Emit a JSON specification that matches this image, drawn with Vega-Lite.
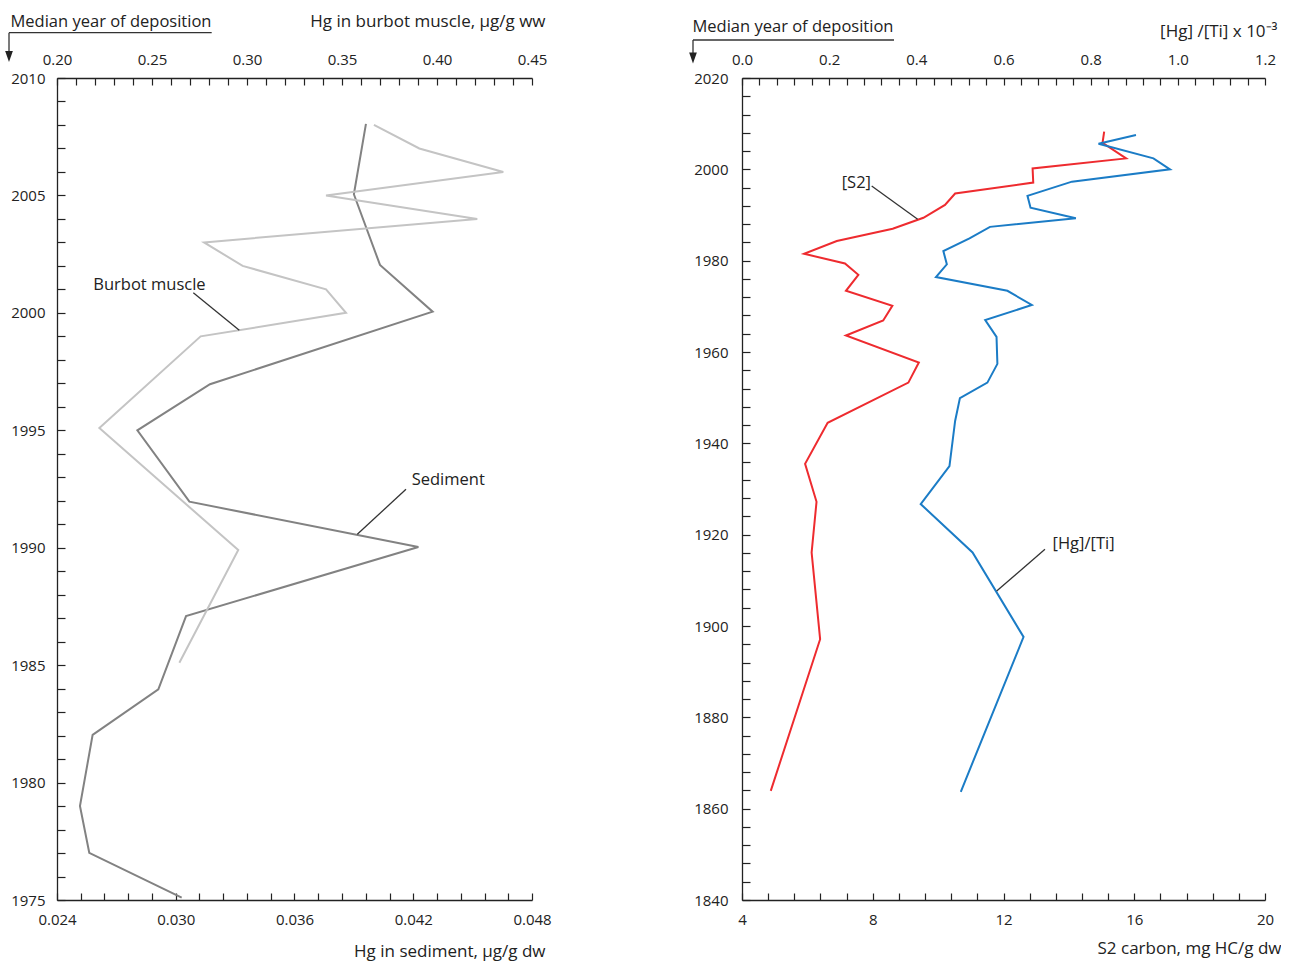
{
  "$schema": "https://vega.github.io/schema/vega-lite/v6.json",
  "padding": {"left": 5, "top": 12, "right": 0, "bottom": 10},
  "bounds": "flush",
  "spacing": 210,
  "config": {
    "view": {"stroke": null},
    "font": "Open Sans",
    "axis": {
      "grid": false,
      "domainColor": "#222222",
      "domainWidth": 1.3,
      "tickColor": "#222222",
      "tickWidth": 1.2,
      "labelColor": "#222222",
      "titleColor": "#222222",
      "labelFont": "Open Sans",
      "titleFont": "Open Sans",
      "labelFontSize": 15,
      "titleFontSize": 17,
      "titleFontWeight": "normal",
      "labelFlush": false,
      "labelOverlap": false
    }
  },
  "datasets": {
    "sediment": [
      {"year": 2008.05, "hg": 0.03961},
      {"year": 2005.05, "hg": 0.0390},
      {"year": 2002.04, "hg": 0.04032},
      {"year": 2000.05, "hg": 0.04298},
      {"year": 1996.96, "hg": 0.03173},
      {"year": 1995.0, "hg": 0.02806},
      {"year": 1991.96, "hg": 0.03069},
      {"year": 1990.03, "hg": 0.04226},
      {"year": 1987.09, "hg": 0.03052},
      {"year": 1983.97, "hg": 0.02912},
      {"year": 1982.03, "hg": 0.0258},
      {"year": 1979.0, "hg": 0.02516},
      {"year": 1977.01, "hg": 0.02563},
      {"year": 1975.1, "hg": 0.0303}
    ],
    "burbot": [
      {"year": 2008.0, "hg": 0.3668},
      {"year": 2007.0, "hg": 0.3907},
      {"year": 2006.0, "hg": 0.4349},
      {"year": 2005.0, "hg": 0.3416},
      {"year": 2004.0, "hg": 0.4212},
      {"year": 2003.0, "hg": 0.2774},
      {"year": 2002.0, "hg": 0.2977},
      {"year": 2001.0, "hg": 0.3416},
      {"year": 2000.0, "hg": 0.3521},
      {"year": 1999.0, "hg": 0.2756},
      {"year": 1995.1, "hg": 0.2223},
      {"year": 1989.9, "hg": 0.2954},
      {"year": 1985.1, "hg": 0.2644}
    ],
    "s2": [
      {"year": 2008.25, "s2": 15.08},
      {"year": 2005.8, "s2": 15.03},
      {"year": 2002.4, "s2": 15.75},
      {"year": 2000.2, "s2": 12.89},
      {"year": 1997.1, "s2": 12.91},
      {"year": 1994.7, "s2": 10.52},
      {"year": 1992.2, "s2": 10.21},
      {"year": 1989.4, "s2": 9.55},
      {"year": 1987.0, "s2": 8.61},
      {"year": 1984.3, "s2": 6.90},
      {"year": 1981.5, "s2": 5.90},
      {"year": 1979.4, "s2": 7.15},
      {"year": 1976.9, "s2": 7.56},
      {"year": 1973.4, "s2": 7.18},
      {"year": 1970.1, "s2": 8.60},
      {"year": 1966.9, "s2": 8.32},
      {"year": 1963.6, "s2": 7.18},
      {"year": 1957.7, "s2": 9.41},
      {"year": 1953.3, "s2": 9.09},
      {"year": 1944.5, "s2": 6.62},
      {"year": 1935.5, "s2": 5.93},
      {"year": 1927.2, "s2": 6.28},
      {"year": 1916.1, "s2": 6.13},
      {"year": 1897.1, "s2": 6.39},
      {"year": 1863.9, "s2": 4.88}
    ],
    "hgti": [
      {"year": 2007.5, "r": 0.904},
      {"year": 2005.6, "r": 0.818},
      {"year": 2002.4, "r": 0.944},
      {"year": 2000.0, "r": 0.982},
      {"year": 1997.3, "r": 0.757},
      {"year": 1994.2, "r": 0.655},
      {"year": 1991.6, "r": 0.662},
      {"year": 1989.3, "r": 0.766},
      {"year": 1987.4, "r": 0.569},
      {"year": 1984.9, "r": 0.522},
      {"year": 1982.1, "r": 0.462},
      {"year": 1979.2, "r": 0.470},
      {"year": 1976.4, "r": 0.445},
      {"year": 1973.4, "r": 0.609},
      {"year": 1970.3, "r": 0.665},
      {"year": 1967.0, "r": 0.558},
      {"year": 1963.3, "r": 0.584},
      {"year": 1957.4, "r": 0.586},
      {"year": 1953.3, "r": 0.563},
      {"year": 1949.9, "r": 0.500},
      {"year": 1944.9, "r": 0.489},
      {"year": 1935.0, "r": 0.476},
      {"year": 1926.7, "r": 0.410},
      {"year": 1916.1, "r": 0.529},
      {"year": 1897.6, "r": 0.646},
      {"year": 1863.7, "r": 0.502}
    ],
    "left_text": [
      {"label": "Burbot muscle", "x": 0.025834, "y": 2001.19},
      {"label": "Sediment", "x": 0.041922, "y": 1992.87}
    ],
    "left_rules": [
      {"x": 0.030887, "y": 2000.86, "x2": 0.033211, "y2": 1999.26},
      {"x": 0.041633, "y": 1992.49, "x2": 0.039173, "y2": 1990.57},
      {"x": 0.021575, "y": 2011.93, "x2": 0.031816, "y2": 2011.93},
      {"x": 0.021575, "y": 2011.93, "x2": 0.021575, "y2": 2011.06}
    ],
    "left_head": [{"x": 0.021575, "y": 2010.915}],
    "right_text": [
      {"label": "[S2]", "x": 7.05, "y": 1997.07},
      {"label": "[Hg]/[Ti]", "x": 13.50, "y": 1917.9}
    ],
    "right_rules": [
      {"x": 7.967, "y": 1996.35, "x2": 9.375, "y2": 1989.06},
      {"x": 13.269, "y": 1916.8, "x2": 11.791, "y2": 1907.67},
      {"x": 2.501, "y": 2028.32, "x2": 8.65, "y2": 2028.32},
      {"x": 2.501, "y": 2028.32, "x2": 2.501, "y2": 2025.04}
    ],
    "right_head": [{"x": 2.501, "y": 2024.38}]
  },
  "hconcat": [
    {
      "width": 475,
      "height": 822,
      "resolve": {"scale": {"x": "independent"}},
      "layer": [
        {
          "data": {"name": "sediment"},
          "mark": {"type": "line", "color": "#828282", "strokeWidth": 2},
          "encoding": {
            "x": {
              "field": "hg", "type": "quantitative",
              "scale": {"domain": [0.024, 0.048], "nice": false, "zero": false},
              "axis": {
                "orient": "bottom",
                "values": [0.024, 0.0252, 0.0264, 0.0276, 0.0288, 0.03, 0.0312, 0.0324, 0.0336, 0.0348, 0.036, 0.0372, 0.0384, 0.0396, 0.0408, 0.042, 0.0432, 0.0444, 0.0456, 0.0468, 0.048],
                "labelExpr": "round((datum.value-0.024)/0.0012) % 5 == 0 ? format(datum.value, '.3f') : ''",
                "tickSize": -7,
                "labelPadding": 31,
                "labelBaseline": "alphabetic",
                "title": "Hg in sediment, µg/g dw",
                "titleX": 488,
                "titleY": 56,
                "titleAlign": "right",
                "titleBaseline": "alphabetic"
              }
            },
            "y": {
              "field": "year", "type": "quantitative",
              "scale": {"domain": [1975, 2010], "nice": false, "zero": false},
              "axis": {"orient": "left", "values": [1975, 1976, 1977, 1978, 1979, 1980, 1981, 1982, 1983, 1984, 1985, 1986, 1987, 1988, 1989, 1990, 1991, 1992, 1993, 1994, 1995, 1996, 1997, 1998, 1999, 2000, 2001, 2002, 2003, 2004, 2005, 2006, 2007, 2008, 2009, 2010], "labelExpr": "datum.value % 5 == 0 ? format(datum.value, 'd') : ''", "tickSize": -8, "labelPadding": 20, "labelBaseline": "middle", "title": "Median year of deposition", "titleFontSize": 16.5, "titleAngle": 0, "titleX": -47, "titleY": -52, "titleAlign": "left", "titleBaseline": "alphabetic"}
            },
            "order": {"field": "year", "type": "quantitative"}
          }
        },
        {
          "data": {"name": "burbot"},
          "mark": {"type": "line", "color": "#c4c4c4", "strokeWidth": 2},
          "encoding": {
            "x": {
              "field": "hg", "type": "quantitative",
              "scale": {"domain": [0.2, 0.45], "nice": false, "zero": false},
              "axis": {
                "orient": "top",
                "values": [0.2, 0.21, 0.22, 0.23, 0.24, 0.25, 0.26, 0.27, 0.28, 0.29, 0.3, 0.31, 0.32, 0.33, 0.34, 0.35, 0.36, 0.37, 0.38, 0.39, 0.4, 0.41, 0.42, 0.43, 0.44, 0.45],
                "labelExpr": "round(datum.value*100) % 5 == 0 ? format(datum.value, '.2f') : ''",
                "tickSize": -7,
                "labelPadding": 21,
                "labelBaseline": "alphabetic",
                "title": "Hg in burbot muscle, µg/g ww",
                "titleX": 488,
                "titleY": -52,
                "titleAlign": "right",
                "titleBaseline": "alphabetic"
              }
            },
            "y": {
              "field": "year", "type": "quantitative",
              "scale": {"domain": [1975, 2010], "nice": false, "zero": false},
              "axis": {"orient": "left", "values": [1975, 1976, 1977, 1978, 1979, 1980, 1981, 1982, 1983, 1984, 1985, 1986, 1987, 1988, 1989, 1990, 1991, 1992, 1993, 1994, 1995, 1996, 1997, 1998, 1999, 2000, 2001, 2002, 2003, 2004, 2005, 2006, 2007, 2008, 2009, 2010], "labelExpr": "datum.value % 5 == 0 ? format(datum.value, 'd') : ''", "tickSize": -8, "labelPadding": 20, "labelBaseline": "middle", "title": "Median year of deposition", "titleFontSize": 16.5, "titleAngle": 0, "titleX": -47, "titleY": -52, "titleAlign": "left", "titleBaseline": "alphabetic"}
            },
            "order": {"field": "year", "type": "quantitative"}
          }
        },
        {
          "data": {"name": "left_rules"},
          "mark": {"type": "rule", "color": "#333333", "strokeWidth": 1.3},
          "encoding": {
            "x": {"field": "x", "type": "quantitative", "scale": {"domain": [0.024, 0.048], "nice": false, "zero": false}, "axis": null},
            "y": {
              "field": "y", "type": "quantitative",
              "scale": {"domain": [1975, 2010], "nice": false, "zero": false},
              "axis": {"orient": "left", "values": [1975, 1976, 1977, 1978, 1979, 1980, 1981, 1982, 1983, 1984, 1985, 1986, 1987, 1988, 1989, 1990, 1991, 1992, 1993, 1994, 1995, 1996, 1997, 1998, 1999, 2000, 2001, 2002, 2003, 2004, 2005, 2006, 2007, 2008, 2009, 2010], "labelExpr": "datum.value % 5 == 0 ? format(datum.value, 'd') : ''", "tickSize": -8, "labelPadding": 20, "labelBaseline": "middle", "title": "Median year of deposition", "titleFontSize": 16.5, "titleAngle": 0, "titleX": -47, "titleY": -52, "titleAlign": "left", "titleBaseline": "alphabetic"}
            },
            "x2": {"field": "x2"},
            "y2": {"field": "y2"}
          }
        },
        {
          "data": {"name": "left_head"},
          "mark": {"type": "point", "shape": "M-0.7,-1L0.7,-1L0,1Z", "filled": true, "color": "#222222", "size": 121, "opacity": 1},
          "encoding": {
            "x": {"field": "x", "type": "quantitative", "scale": {"domain": [0.024, 0.048], "nice": false, "zero": false}, "axis": null},
            "y": {
              "field": "y", "type": "quantitative",
              "scale": {"domain": [1975, 2010], "nice": false, "zero": false},
              "axis": {"orient": "left", "values": [1975, 1976, 1977, 1978, 1979, 1980, 1981, 1982, 1983, 1984, 1985, 1986, 1987, 1988, 1989, 1990, 1991, 1992, 1993, 1994, 1995, 1996, 1997, 1998, 1999, 2000, 2001, 2002, 2003, 2004, 2005, 2006, 2007, 2008, 2009, 2010], "labelExpr": "datum.value % 5 == 0 ? format(datum.value, 'd') : ''", "tickSize": -8, "labelPadding": 20, "labelBaseline": "middle", "title": "Median year of deposition", "titleFontSize": 16.5, "titleAngle": 0, "titleX": -47, "titleY": -52, "titleAlign": "left", "titleBaseline": "alphabetic"}
            }
          }
        },
        {
          "data": {"name": "left_text"},
          "mark": {"type": "text", "align": "left", "baseline": "middle", "fontSize": 16.5, "font": "Open Sans", "color": "#222222"},
          "encoding": {
            "x": {"field": "x", "type": "quantitative", "scale": {"domain": [0.024, 0.048], "nice": false, "zero": false}, "axis": null},
            "y": {
              "field": "y", "type": "quantitative",
              "scale": {"domain": [1975, 2010], "nice": false, "zero": false},
              "axis": {"orient": "left", "values": [1975, 1976, 1977, 1978, 1979, 1980, 1981, 1982, 1983, 1984, 1985, 1986, 1987, 1988, 1989, 1990, 1991, 1992, 1993, 1994, 1995, 1996, 1997, 1998, 1999, 2000, 2001, 2002, 2003, 2004, 2005, 2006, 2007, 2008, 2009, 2010], "labelExpr": "datum.value % 5 == 0 ? format(datum.value, 'd') : ''", "tickSize": -8, "labelPadding": 20, "labelBaseline": "middle", "title": "Median year of deposition", "titleFontSize": 16.5, "titleAngle": 0, "titleX": -47, "titleY": -52, "titleAlign": "left", "titleBaseline": "alphabetic"}
            },
            "text": {"field": "label"}
          }
        }
      ]
    },
    {
      "width": 523,
      "height": 822,
      "resolve": {"scale": {"x": "independent"}},
      "layer": [
        {
          "data": {"name": "s2"},
          "mark": {"type": "line", "color": "#ee2b2f", "strokeWidth": 2},
          "encoding": {
            "x": {
              "field": "s2", "type": "quantitative",
              "scale": {"domain": [4, 20], "nice": false, "zero": false},
              "axis": {
                "orient": "bottom",
                "values": [4, 4.8, 5.6, 6.4, 7.2, 8, 8.8, 9.6, 10.4, 11.2, 12, 12.8, 13.6, 14.4, 15.2, 16, 16.8, 17.6, 18.4, 19.2, 20],
                "labelExpr": "round((datum.value-4)/0.8) % 5 == 0 ? format(datum.value, 'd') : ''",
                "tickSize": -7,
                "labelPadding": 31,
                "labelBaseline": "alphabetic",
                "title": "S2 carbon, mg HC/g dw",
                "titleX": 539,
                "titleY": 53,
                "titleAlign": "right",
                "titleBaseline": "alphabetic"
              }
            },
            "y": {
              "field": "year", "type": "quantitative",
              "scale": {"domain": [1840, 2020], "nice": false, "zero": false},
              "axis": {"orient": "left", "values": [1840, 1844, 1848, 1852, 1856, 1860, 1864, 1868, 1872, 1876, 1880, 1884, 1888, 1892, 1896, 1900, 1904, 1908, 1912, 1916, 1920, 1924, 1928, 1932, 1936, 1940, 1944, 1948, 1952, 1956, 1960, 1964, 1968, 1972, 1976, 1980, 1984, 1988, 1992, 1996, 2000, 2004, 2008, 2012, 2016, 2020], "labelExpr": "datum.value % 20 == 0 ? format(datum.value, 'd') : ''", "tickSize": -8, "labelPadding": 22, "labelBaseline": "middle", "title": "Median year of deposition", "titleFontSize": 16.5, "titleAngle": 0, "titleX": -50, "titleY": -47, "titleAlign": "left", "titleBaseline": "alphabetic"}
            },
            "order": {"field": "year", "type": "quantitative"}
          }
        },
        {
          "data": {"name": "hgti"},
          "mark": {"type": "line", "color": "#1b7cc6", "strokeWidth": 2},
          "encoding": {
            "x": {
              "field": "r", "type": "quantitative",
              "scale": {"domain": [0, 1.2], "nice": false, "zero": false},
              "axis": {
                "orient": "top",
                "values": [0, 0.04, 0.08, 0.12, 0.16, 0.2, 0.24, 0.28, 0.32, 0.36, 0.4, 0.44, 0.48, 0.52, 0.56, 0.6, 0.64, 0.68, 0.72, 0.76, 0.8, 0.84, 0.88, 0.92, 0.96, 1.0, 1.04, 1.08, 1.12, 1.16, 1.2],
                "labelExpr": "round(datum.value/0.04) % 5 == 0 ? format(datum.value, '.1f') : ''",
                "tickSize": -7,
                "labelPadding": 21,
                "labelBaseline": "alphabetic",
                "title": "[Hg] /[Ti] x 10⁻³",
                "titleX": 535,
                "titleY": -42,
                "titleAlign": "right",
                "titleBaseline": "alphabetic"
              }
            },
            "y": {
              "field": "year", "type": "quantitative",
              "scale": {"domain": [1840, 2020], "nice": false, "zero": false},
              "axis": {"orient": "left", "values": [1840, 1844, 1848, 1852, 1856, 1860, 1864, 1868, 1872, 1876, 1880, 1884, 1888, 1892, 1896, 1900, 1904, 1908, 1912, 1916, 1920, 1924, 1928, 1932, 1936, 1940, 1944, 1948, 1952, 1956, 1960, 1964, 1968, 1972, 1976, 1980, 1984, 1988, 1992, 1996, 2000, 2004, 2008, 2012, 2016, 2020], "labelExpr": "datum.value % 20 == 0 ? format(datum.value, 'd') : ''", "tickSize": -8, "labelPadding": 22, "labelBaseline": "middle", "title": "Median year of deposition", "titleFontSize": 16.5, "titleAngle": 0, "titleX": -50, "titleY": -47, "titleAlign": "left", "titleBaseline": "alphabetic"}
            },
            "order": {"field": "year", "type": "quantitative"}
          }
        },
        {
          "data": {"name": "right_rules"},
          "mark": {"type": "rule", "color": "#333333", "strokeWidth": 1.3},
          "encoding": {
            "x": {"field": "x", "type": "quantitative", "scale": {"domain": [4, 20], "nice": false, "zero": false}, "axis": null},
            "y": {
              "field": "y", "type": "quantitative",
              "scale": {"domain": [1840, 2020], "nice": false, "zero": false},
              "axis": {"orient": "left", "values": [1840, 1844, 1848, 1852, 1856, 1860, 1864, 1868, 1872, 1876, 1880, 1884, 1888, 1892, 1896, 1900, 1904, 1908, 1912, 1916, 1920, 1924, 1928, 1932, 1936, 1940, 1944, 1948, 1952, 1956, 1960, 1964, 1968, 1972, 1976, 1980, 1984, 1988, 1992, 1996, 2000, 2004, 2008, 2012, 2016, 2020], "labelExpr": "datum.value % 20 == 0 ? format(datum.value, 'd') : ''", "tickSize": -8, "labelPadding": 22, "labelBaseline": "middle", "title": "Median year of deposition", "titleFontSize": 16.5, "titleAngle": 0, "titleX": -50, "titleY": -47, "titleAlign": "left", "titleBaseline": "alphabetic"}
            },
            "x2": {"field": "x2"},
            "y2": {"field": "y2"}
          }
        },
        {
          "data": {"name": "right_head"},
          "mark": {"type": "point", "shape": "M-0.7,-1L0.7,-1L0,1Z", "filled": true, "color": "#222222", "size": 121, "opacity": 1},
          "encoding": {
            "x": {"field": "x", "type": "quantitative", "scale": {"domain": [4, 20], "nice": false, "zero": false}, "axis": null},
            "y": {
              "field": "y", "type": "quantitative",
              "scale": {"domain": [1840, 2020], "nice": false, "zero": false},
              "axis": {"orient": "left", "values": [1840, 1844, 1848, 1852, 1856, 1860, 1864, 1868, 1872, 1876, 1880, 1884, 1888, 1892, 1896, 1900, 1904, 1908, 1912, 1916, 1920, 1924, 1928, 1932, 1936, 1940, 1944, 1948, 1952, 1956, 1960, 1964, 1968, 1972, 1976, 1980, 1984, 1988, 1992, 1996, 2000, 2004, 2008, 2012, 2016, 2020], "labelExpr": "datum.value % 20 == 0 ? format(datum.value, 'd') : ''", "tickSize": -8, "labelPadding": 22, "labelBaseline": "middle", "title": "Median year of deposition", "titleFontSize": 16.5, "titleAngle": 0, "titleX": -50, "titleY": -47, "titleAlign": "left", "titleBaseline": "alphabetic"}
            }
          }
        },
        {
          "data": {"name": "right_text"},
          "mark": {"type": "text", "align": "left", "baseline": "middle", "fontSize": 16.5, "font": "Open Sans", "color": "#222222"},
          "encoding": {
            "x": {"field": "x", "type": "quantitative", "scale": {"domain": [4, 20], "nice": false, "zero": false}, "axis": null},
            "y": {
              "field": "y", "type": "quantitative",
              "scale": {"domain": [1840, 2020], "nice": false, "zero": false},
              "axis": {"orient": "left", "values": [1840, 1844, 1848, 1852, 1856, 1860, 1864, 1868, 1872, 1876, 1880, 1884, 1888, 1892, 1896, 1900, 1904, 1908, 1912, 1916, 1920, 1924, 1928, 1932, 1936, 1940, 1944, 1948, 1952, 1956, 1960, 1964, 1968, 1972, 1976, 1980, 1984, 1988, 1992, 1996, 2000, 2004, 2008, 2012, 2016, 2020], "labelExpr": "datum.value % 20 == 0 ? format(datum.value, 'd') : ''", "tickSize": -8, "labelPadding": 22, "labelBaseline": "middle", "title": "Median year of deposition", "titleFontSize": 16.5, "titleAngle": 0, "titleX": -50, "titleY": -47, "titleAlign": "left", "titleBaseline": "alphabetic"}
            },
            "text": {"field": "label"}
          }
        }
      ]
    }
  ]
}
